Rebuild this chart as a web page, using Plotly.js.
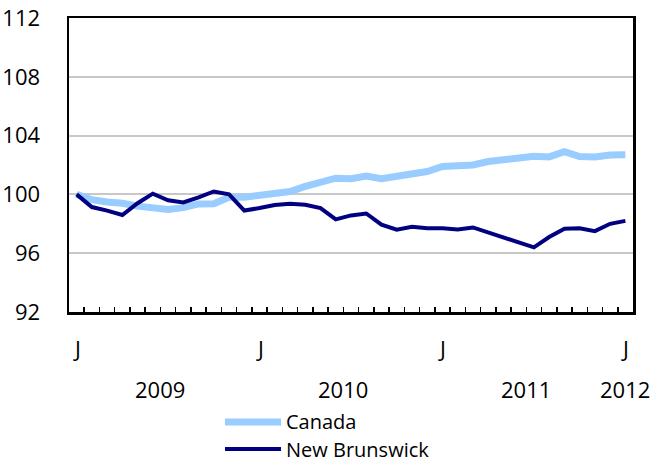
<!DOCTYPE html>
<html>
<head>
<meta charset="utf-8">
<script src="https://cdn.plot.ly/plotly-3.0.1.min.js"></script>
<style>
  html, body { margin: 0; padding: 0; background: #fff; }
  #chart { width: 656px; height: 462px; }
</style>
</head>
<body>
<div id="chart"></div>
<script>
// Monthly index, January 2009 = 100 (Jan 2009 .. Jan 2012)
const months = ["2009-01","2009-02","2009-03","2009-04","2009-05","2009-06","2009-07","2009-08","2009-09","2009-10","2009-11","2009-12",
                "2010-01","2010-02","2010-03","2010-04","2010-05","2010-06","2010-07","2010-08","2010-09","2010-10","2010-11","2010-12",
                "2011-01","2011-02","2011-03","2011-04","2011-05","2011-06","2011-07","2011-08","2011-09","2011-10","2011-11","2011-12",
                "2012-01"];
const canada = [100.0, 99.64, 99.48, 99.4, 99.2, 99.05, 98.98, 99.1, 99.35, 99.37, 99.8, 99.8,
                99.9, 100.1, 100.2, 100.55, 100.8, 101.1, 101.07, 101.25, 101.07, 101.25, 101.36, 101.56,
                101.9, 101.97, 102.0, 102.24, 102.38, 102.54, 102.6, 102.55, 102.9, 102.58, 102.54, 102.68,
                102.7];
const newBrunswick = [100.0, 99.14, 98.9, 98.6, 99.4, 100.05, 99.6, 99.45, 99.8, 100.2, 100.0, 98.9,
                      99.07, 99.28, 99.37, 99.3, 99.07, 98.3, 98.57, 98.7, 97.94, 97.6, 97.8, 97.7,
                      97.7, 97.62, 97.75, 97.4, 97.05, 96.7, 96.4, 97.1, 97.67, 97.7, 97.5, 98.0,
                      98.2];
const seriesNames = ["Canada", "New Brunswick"];
const yTicks = [92, 96, 100, 104, 108, 112];
const monthLabelIdx = [0, 12, 24, 36];
const monthLabels = ["J", "J", "J", "J"];
const yearLabelIdx = [5.5, 17.5, 29.5, 36];
const yearLabels = ["2009", "2010", "2011", "2012"];

const xIdx = months.map((m, i) => i);
const font = "'Open Sans', 'Noto Sans', sans-serif";
const fs = 22;
const legFs = 20;
const colors = ["#99CCFF", "#000080"];
const widths = [7, 4];

const traces = [canada, newBrunswick].map((vals, k) => ({
  x: xIdx, y: vals, type: "scatter", mode: "lines", name: seriesNames[k],
  line: { color: colors[k], width: widths[k] }, hoverinfo: "skip", showlegend: false
}));

const boundaries = [];
for (let i = 0; i <= months.length; i++) boundaries.push(i - 0.5);

const annotations = [];
monthLabelIdx.forEach((v, i) => annotations.push({
  x: v, xref: "x", y: -0.1224, yref: "paper", text: monthLabels[i], showarrow: false,
  xanchor: "center", yanchor: "middle", font: { family: font, size: fs, color: "#000" }
}));
yearLabelIdx.forEach((v, i) => annotations.push({
  x: v, xref: "x", y: -0.262, yref: "paper", text: yearLabels[i], showarrow: false,
  xanchor: "center", yanchor: "middle", font: { family: font, size: fs, color: "#000" }
}));
const legY = [-0.3741, -0.466];
const shapes = [];
seriesNames.forEach((n, k) => {
  shapes.push({ type: "line", xref: "paper", yref: "paper", x0: 0.2766, x1: 0.3759, y0: legY[k], y1: legY[k],
    line: { color: colors[k], width: widths[k] } });
  annotations.push({ x: 0.382, xref: "paper", y: legY[k], yref: "paper", text: n, showarrow: false,
    xanchor: "left", yanchor: "middle", font: { family: font, size: legFs, color: "#000" } });
});

const layout = {
  width: 656, height: 462,
  margin: { l: 69, r: 23, t: 18, b: 150 },
  paper_bgcolor: "#fff", plot_bgcolor: "#fff",
  showlegend: false,
  xaxis: {
    range: [-0.5, months.length - 0.5], showgrid: false, zeroline: false,
    tickmode: "array", tickvals: boundaries, showticklabels: false,
    ticks: "inside", ticklen: 5, tickwidth: 1.5, tickcolor: "#000",
    showline: true, linecolor: "#000", linewidth: 2.5, mirror: true
  },
  yaxis: {
    range: [92, 112], tickmode: "array", tickvals: yTicks, ticktext: yTicks.map(String),
    showgrid: true, gridcolor: "#c8c8c8", gridwidth: 2, zeroline: false,
    ticks: "", ticklabelstandoff: 22,
    tickfont: { family: font, size: fs, color: "#000" },
    showline: true, linecolor: "#000", linewidth: 2.5, mirror: true
  },
  annotations: annotations,
  shapes: shapes
};

Plotly.newPlot("chart", traces, layout, { displayModeBar: false, staticPlot: true });
</script>
</body>
</html>
